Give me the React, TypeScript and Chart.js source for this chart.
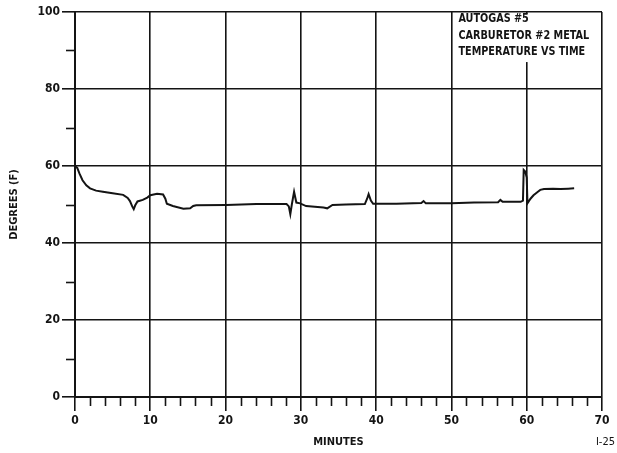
import React, { useEffect, useRef } from "react";
import { Chart, registerables } from "chart.js";

Chart.register(...registerables);

// ---- data ----
const minutes = [
  0, 0.3, 0.6, 1.0, 1.5, 2.0, 2.8, 3.7, 5.0, 6.4, 7.0, 7.3, 7.6, 7.8, 8.0, 8.3, 9.0, 9.6, 10.0, 10.9,
  11.7, 12.0, 12.2, 13.0, 14.4, 15.3, 15.7, 16.1, 20.1, 24.1, 28.1, 28.4, 28.6, 28.8, 29.1, 29.4, 29.9,
  30.7, 33.0, 33.5, 34.2, 36.0, 38.5, 38.8, 39.0, 39.3, 39.6, 42.7, 46.0, 46.3, 46.6, 50.0, 53.0, 56.2,
  56.5, 56.8, 59.2, 59.5, 59.6, 59.8, 60.0, 60.1, 60.5, 60.9, 61.4, 61.8, 62.3, 63.5, 64.5, 65.5, 66.3,
];
const degrees = [
  60, 59.5, 58, 56.3, 55, 54.2, 53.6, 53.3, 52.9, 52.5, 51.7, 50.9, 49.5, 48.8, 49.8, 50.8, 51.2, 51.8, 52.4, 52.8,
  52.6, 51.5, 50.2, 49.6, 48.9, 49.0, 49.6, 49.8, 49.9, 50.1, 50.1, 49.5, 47.5, 50.0, 53.3, 50.5, 50.3,
  49.6, 49.2, 49.0, 49.9, 50.0, 50.1, 51.5, 52.7, 51.0, 50.2, 50.2, 50.4, 50.9, 50.3, 50.3, 50.5, 50.6,
  51.2, 50.7, 50.7, 51.0, 59.0, 58.6, 57.0, 50.3, 51.5, 52.4, 53.2, 53.8, 54.0, 54.1, 54.0, 54.1, 54.2,
];
const xTickValues = [0, 10, 20, 30, 40, 50, 60, 70];
const yTickValues = [0, 20, 40, 60, 80, 100];
const xMinorTicks = [2, 4, 6, 8, 12, 14, 16, 18, 22, 24, 26, 28, 32, 34, 36, 38, 42, 44, 46, 48, 52, 54, 56, 58, 62, 64, 66, 68];
const yMinorTicks = [10, 30, 50, 70, 90];
const titleLines = ["AUTOGAS #5", "CARBURETOR #2 METAL", "TEMPERATURE VS TIME"];
const xTitle = "MINUTES";
const yTitle = "DEGREES (F)";
const pageNote = "I-25";

const FONT =
  "'Liberation Sans Narrow', 'DejaVu Sans Condensed', 'Arial Narrow', 'Liberation Sans', Arial, sans-serif";
const INK = "#141414";

const extrasPlugin = {
  id: "extras",
  afterDraw(chart: any) {
    const { ctx, chartArea } = chart;
    const x = chart.scales.x;
    const y = chart.scales.y;
    ctx.save();
    ctx.strokeStyle = INK;
    ctx.lineWidth = 1.6;
    // x minor ticks (below axis)
    for (const v of xMinorTicks) {
      const px = Math.round(x.getPixelForValue(v)) + 0.5;
      ctx.beginPath();
      ctx.moveTo(px, chartArea.bottom);
      ctx.lineTo(px, chartArea.bottom + 9);
      ctx.stroke();
    }
    // y minor ticks (left of axis)
    for (const v of yMinorTicks) {
      const py = Math.round(y.getPixelForValue(v)) + 0.5;
      ctx.beginPath();
      ctx.moveTo(chartArea.left - 9, py);
      ctx.lineTo(chartArea.left, py);
      ctx.stroke();
    }
    // title box
    const bx0 = x.getPixelForValue(50) + 2;
    const bx1 = x.getPixelForValue(70) - 2;
    const by0 = chartArea.top + 2;
    const by1 = y.getPixelForValue(87);
    ctx.fillStyle = "#ffffff";
    ctx.fillRect(bx0, by0, bx1 - bx0, by1 - by0);
    ctx.fillStyle = INK;
    ctx.font = `bold 12.5px ${FONT}`;
    ctx.textAlign = "left";
    ctx.textBaseline = "middle";
    const maxW = bx1 - bx0 - 11;
    titleLines.forEach((t, i) => {
      const w = ctx.measureText(t).width;
      ctx.fillText(t, bx0 + 5, chartArea.top + 7 + i * 16.5, Math.min(w, w * 0.86, maxW));
    });
    // page note
    ctx.font = `11px ${FONT}`;
    ctx.textAlign = "right";
    ctx.fillText(pageNote, chart.width - 2, chart.height - 11);
    ctx.restore();
  },
};

export default function App() {
  const canvasRef = useRef<HTMLCanvasElement | null>(null);

  useEffect(() => {
    if (!canvasRef.current) return;
    const chart = new Chart(canvasRef.current, {
      type: "line",
      data: {
        datasets: [
          {
            data: minutes.map((m, i) => ({ x: m, y: degrees[i] })),
            borderColor: INK,
            borderWidth: 2,
            pointRadius: 0,
            tension: 0,
            fill: false,
          },
        ],
      },
      options: {
        animation: false,
        responsive: true,
        maintainAspectRatio: false,
        layout: { padding: { top: 12, right: 15, left: 0, bottom: 0 } },
        plugins: { legend: { display: false }, tooltip: { enabled: false } },
        scales: {
          x: {
            type: "linear",
            min: 0,
            max: 70,
            afterBuildTicks: (s: any) => {
              s.ticks = xTickValues.map((v) => ({ value: v }));
            },
            afterFit: (s: any) => {
              s.height = 56;
            },
            grid: { color: INK, lineWidth: 1.6, tickLength: 14, tickColor: INK },
            border: { display: true, color: INK, width: 2 },
            ticks: {
              color: INK,
              padding: 3,
              maxRotation: 0,
              autoSkip: false,
              font: { family: FONT, size: 12, weight: "bold" },
            },
            title: {
              display: true,
              text: xTitle,
              color: INK,
              padding: { top: 0, bottom: 4 },
              font: { family: FONT, size: 11, weight: "bold" },
            },
          },
          y: {
            type: "linear",
            min: 0,
            max: 100,
            afterBuildTicks: (s: any) => {
              s.ticks = yTickValues.map((v) => ({ value: v }));
            },
            afterFit: (s: any) => {
              s.width = 75;
            },
            grid: { color: INK, lineWidth: 1.6, tickLength: 13, tickColor: INK },
            border: { display: true, color: INK, width: 2 },
            ticks: {
              color: INK,
              padding: 2,
              autoSkip: false,
              font: { family: FONT, size: 12, weight: "bold" },
            },
            title: {
              display: true,
              text: yTitle,
              color: INK,
              padding: { top: 8, bottom: 0 },
              font: { family: FONT, size: 11, weight: "bold" },
            },
          },
        },
      },
      plugins: [extrasPlugin],
    });
    return () => chart.destroy();
  }, []);

  return (
    <div style={{ position: "fixed", left: 0, top: 0, width: 617, height: 453, background: "#fff" }}>
      <canvas ref={canvasRef} />
    </div>
  );
}
